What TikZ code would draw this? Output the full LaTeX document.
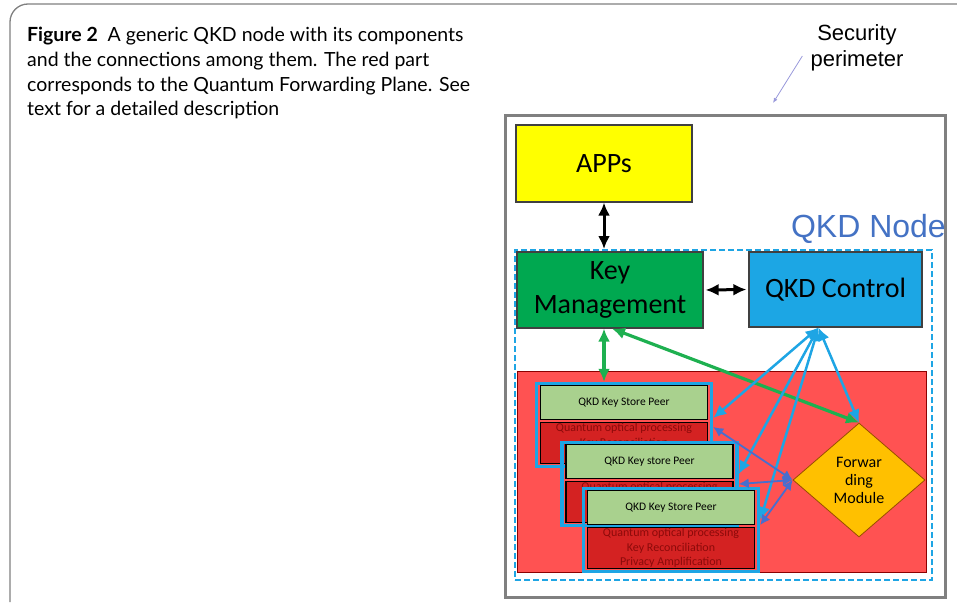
\documentclass[tikz,border=0pt]{standalone}
\usepackage{fontspec}
\setmainfont{Carlito}
\newfontfamily\capfont{Lato}
\newfontfamily\arialfont{Liberation Sans}
\usepackage{xcolor}
\usetikzlibrary{shapes,arrows,arrows.meta,positioning,shapes.geometric}

\definecolor{appyellow}{RGB}{255,255,0}
\definecolor{kmgreen}{RGB}{0,168,80}
\definecolor{ctrlblue}{RGB}{28,166,228}
\definecolor{planered}{RGB}{255,82,82}
\definecolor{bodyred}{RGB}{212,34,34}
\definecolor{bodytext}{RGB}{140,10,10}
\definecolor{headgreen}{RGB}{169,209,142}
\definecolor{fwdorange}{RGB}{255,192,0}
\definecolor{linkcyan}{RGB}{30,165,228}
\definecolor{linkpurple}{RGB}{72,110,206}
\definecolor{linkgreen}{RGB}{30,176,80}
\definecolor{nodeblue}{RGB}{68,114,196}

\begin{document}
\begin{tikzpicture}[x=1pt, y=-1pt, >={Latex[length=13pt,width=12pt]},
    box/.style={rectangle, draw=black!75, line width=1.2pt, align=center, inner sep=0pt, font=\fontsize{28}{34}\selectfont},
    peerframe/.style={rectangle, draw=linkcyan, line width=3.5pt, minimum width=175pt, minimum height=83pt, inner sep=0pt},
    peerhead/.style={rectangle, draw=black, line width=1.2pt, fill=headgreen, minimum width=167pt, minimum height=34pt, inner sep=0pt, font=\fontsize{11.5}{13}\selectfont},
    peerbody/.style={rectangle, draw=black, line width=1.2pt, fill=bodyred, text=bodytext, minimum width=167pt, minimum height=41pt, inner sep=0pt, align=center, font=\fontsize{12}{14.5}\selectfont},
    link/.style={<->, line width=2.5pt}
]
    \useasboundingbox (0,0) rectangle (957,602);

    % Page frame and caption
    \draw[gray, line width=1.3pt, rounded corners=18pt] (957,4) -- (10,4) -- (10,602);
    \node[anchor=north west, align=left, inner sep=0pt, font=\capfont\fontsize{19.5}{24.7}\selectfont] (caption) at (27,27)
        {\textbf{Figure 2}\enspace A generic QKD node with its components\\
         and the connections among them. The red part\\
         corresponds to the Quantum Forwarding Plane. See\\
         text for a detailed description};

    % Security perimeter
    \node[rectangle, draw=black!50, line width=3pt, minimum width=440pt, minimum height=482pt] (perimeter) at (725,356) {};
    \node[align=center, inner sep=0pt, font=\arialfont\fontsize{22}{26}\selectfont] (seclabel) at (857,48) {Security\\perimeter};
    \coordinate (pertip) at (773,103);
    \draw[-{Latex[length=5pt,width=4pt]}, black!35!blue!40, line width=0.8pt] ([xshift=-8pt,yshift=-8pt]seclabel.west) -- (pertip);

    % Applications
    \node[box, fill=appyellow, minimum width=176pt, minimum height=77pt] (apps) at (604,163.5) {APPs};

    % QKD node
    \node[rectangle, draw=linkcyan, line width=2pt, dash pattern=on 6pt off 3pt, minimum width=417pt, minimum height=330pt] (qkdnode) at (723.5,415) {};
    \node[anchor=east, inner sep=0pt, text=nodeblue, font=\arialfont\fontsize{32}{36}\selectfont] (nodelabel) at (946,229) {QKD Node};
    \node[box, fill=kmgreen, minimum width=186pt, minimum height=76pt] (keymgmt) at (610,290) {Key\\Management};
    \node[box, fill=ctrlblue, minimum width=173pt, minimum height=75pt] (qkdctrl) at (835.5,289.5) {QKD Control};

    % Quantum forwarding plane
    \node[rectangle, draw=red!55!black, line width=0.8pt, fill=planered, minimum width=409pt, minimum height=201pt] (plane) at (721.5,471.5) {};
    \foreach \n/\px/\py/\lbl in {A/624/425/QKD Key Store Peer, B/649.5/484/QKD Key store Peer, C/671/530/QKD Key Store Peer} {
        \node[peerframe] (peer\n) at (\px,\py) {};
        \node[peerbody, anchor=south] (body\n) at ([yshift=4pt]peer\n.south) {Quantum optical processing\\Key Reconciliation\\Privacy Amplification};
        \node[peerhead, anchor=north] (head\n) at ([yshift=-3pt]peer\n.north) {\lbl};
    }
    \node[diamond, draw=orange!60!black, line width=0.8pt, fill=fwdorange, minimum width=132pt, minimum height=114pt, inner sep=0pt, align=center, font=\fontsize{16}{18}\selectfont] (fwd) at (859,480) {Forwar\\ding\\Module};

    % Connections
    \draw[link, black, line width=3pt] (apps.south) -- (apps.south |- qkdnode.north);
    \draw[link, black, line width=3pt, shorten <=2pt, shorten >=2pt] (keymgmt.east) -- (qkdctrl.west);
    \draw[link, linkgreen, line width=3.2pt] ([xshift=-6pt]keymgmt.south) -- ([xshift=-6pt]keymgmt.south |- peerA.north);
    \draw[link, linkgreen, line width=3.2pt] ([xshift=2pt]keymgmt.south) -- (fwd.north);
    \draw[link, linkcyan] ([xshift=-17pt]qkdctrl.south) -- ([yshift=7pt]peerA.east);
    \draw[link, linkcyan] ([xshift=-17pt]qkdctrl.south) -- ([yshift=10pt]peerB.east);
    \draw[link, linkcyan] ([xshift=-17pt]qkdctrl.south) -- ([yshift=10pt]peerC.east);
    \draw[link, linkcyan] ([xshift=-17pt]qkdctrl.south) -- (fwd.north);
    \draw[link, linkpurple, line width=1.8pt, >={Latex[length=10pt,width=10pt]}] (fwd.west) -- ([yshift=-2pt]peerA.east);
    \draw[link, linkpurple, line width=1.8pt, >={Latex[length=10pt,width=10pt]}] (fwd.west) -- (peerB.east);
    \draw[link, linkpurple, line width=1.8pt, >={Latex[length=10pt,width=10pt]}] (fwd.west) -- ([yshift=5pt]peerC.east);
\end{tikzpicture}
\end{document}
